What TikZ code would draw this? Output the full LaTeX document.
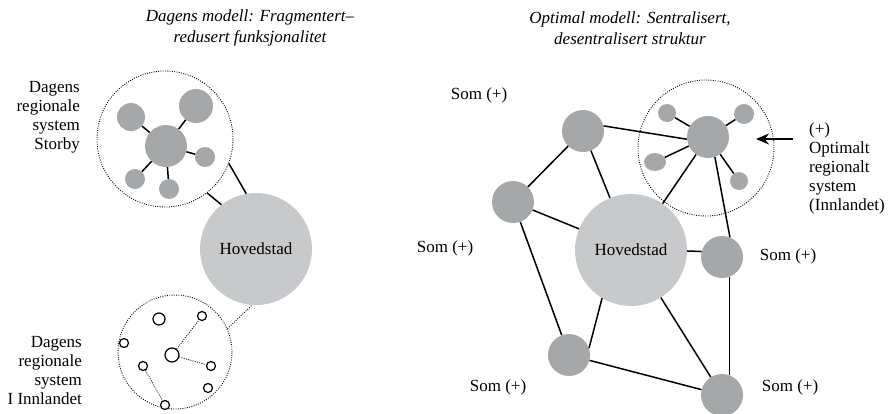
\documentclass[tikz,border=0pt]{standalone}
\usepackage{fontspec}
\setmainfont{Liberation Serif}
\usetikzlibrary{arrows.meta,shapes.geometric}
\definecolor{dkgray}{RGB}{166,167,169}
\definecolor{ltgray}{RGB}{200,201,203}
\begin{document}
\begin{tikzpicture}[x=1pt,y=-1pt,
  dk/.style={circle,fill=dkgray,inner sep=0pt,minimum size=#1},
  lt/.style={circle,fill=ltgray,inner sep=0pt,minimum size=#1},
  op/.style={circle,draw=black,line width=1.2pt,fill=white,inner sep=0pt,minimum size=#1},
  ring/.style={circle,draw=black,line width=0.9pt,dash pattern=on 0.9pt off 1.4pt,inner sep=0pt,minimum size=#1},
  conn/.style={line width=1.5pt,black},
  dconn/.style={line width=0.9pt,black,dash pattern=on 0.9pt off 1.4pt},
  lbl/.style={font=\fontsize{17}{19}\selectfont,inner sep=0pt},
  ttl/.style={font=\fontsize{17}{21}\selectfont\itshape,align=center,inner sep=0pt}
]
\useasboundingbox (0,0) rectangle (889,413);

% ---------- titles ----------
\node[ttl] (t1) at (250,28) {Dagens modell: Fragmentert–\\redusert funksjonalitet};
\node[ttl] (t2) at (630,28) {Optimal modell: Sentralisert,\\desentralisert struktur};

% ---------- left panel ----------
\node[ring=136] (sc) at (165,139) {};
\node[dk=42] (s0) at (166,146) {};
\node[dk=28] (s1) at (131,117) {};
\node[dk=34] (s2) at (196,106) {};
\node[dk=20] (s3) at (205,157) {};
\node[dk=20] (s4) at (135,179) {};
\node[dk=20] (s5) at (169,189) {};
\foreach \n in {s1,s2,s3,s4,s5} \draw[conn] (s0) -- (\n);

\node[lt=112,lbl] (H1) at (256,249) {Hovedstad};
\draw[conn] (sc.-21) -- (H1.100);
\draw[conn] (sc.-52) -- (H1.128);

\node[ring=114] (ic) at (175,352) {};
\draw[dconn] (ic.24) -- (H1.-94);
\node[op=14] (i0) at (172,355) {};
\node[op=12] (i1) at (159,319) {};
\node[op=9] (i2) at (202,316) {};
\node[op=9] (i3) at (124,343) {};
\node[op=9] (i4) at (143,366) {};
\node[op=9] (i5) at (211,366) {};
\node[op=9] (i6) at (208,388) {};
\node[op=9] (i7) at (165,405) {};
\draw[dconn] (i0) -- (i2);
\draw[dconn] (i0) -- (i5);
\draw[dconn] (i4) -- (i7);

\node[lbl,align=right,anchor=east] (L1) at (80,117) {Dagens\\regionale\\system\\Storby};
\node[lbl,align=right,anchor=east] (L2) at (82,371) {Dagens\\regionale\\system\\I Innlandet};

% ---------- right panel ----------
\node[ring=136] (oc) at (706,148) {};
\node[lt=112,lbl] (H2) at (631,250) {Hovedstad};
\node[dk=42] (A) at (583,131) {};
\node[dk=42] (B) at (513,202) {};
\node[dk=42] (C) at (722,257) {};
\node[dk=42] (D) at (569,355) {};
\node[dk=42] (E) at (722,395) {};
\node[dk=42] (F) at (708,137) {};
\node[dk=18] (f1) at (667,113) {};
\node[dk=20] (f2) at (744,114) {};
\node[ellipse,fill=dkgray,inner sep=0pt,minimum width=22,minimum height=18] (f3) at (655,162) {};
\node[dk=18] (f4) at (739,181) {};
\foreach \n in {f1,f2,f3,f4} \draw[conn] (F) -- (\n);

\draw[conn] (A.14) -- (F.186);
\draw[conn] (A) -- (B);
\draw[conn] (A) -- (H2);
\draw[conn] (B) -- (H2);
\draw[conn] (B) -- (D);
\draw[conn] (D.19) -- (H2.239);
\draw[conn] (D) -- (E);
\draw[conn] (H2.-1) -- (C.165);
\draw[conn] (H2) -- (E);
\draw[conn] (C.-70) -- (E.70);
\draw[conn] (F) -- (H2);
\draw[conn] (F.-71) -- (C.68);

\coordinate (arS) at (793,139);
\coordinate (arE) at (756,139);
\draw[line width=2.4pt,-{Stealth[length=13pt,width=11pt]}] (arS) -- (arE);

\node[lbl] (so1) at (479,95) {Som (+)};
\node[lbl] (so2) at (445,248) {Som (+)};
\node[lbl] (so3) at (788,256) {Som (+)};
\node[lbl] (so4) at (498,387) {Som (+)};
\node[lbl] (so5) at (790,387) {Som (+)};
\node[lbl,align=left,anchor=west] (R1) at (809,168) {(+)\\Optimalt\\regionalt\\system\\(Innlandet)};
\end{tikzpicture}
\end{document}
